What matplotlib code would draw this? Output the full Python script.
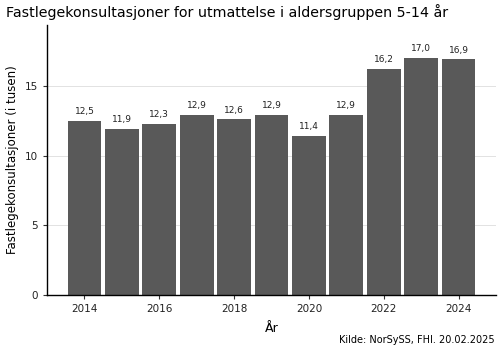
import matplotlib.pyplot as plt

years = [2014, 2015, 2016, 2017, 2018, 2019, 2020, 2021, 2022, 2023, 2024]
values = [12.5, 11.9, 12.3, 12.9, 12.6, 12.9, 11.4, 12.9, 16.2, 17.0, 16.9]
xticks = [2014, 2016, 2018, 2020, 2022, 2024]
yticks = [0, 5, 10, 15]

fig = plt.figure(figsize=(5, 3.52), dpi=100)
ax = fig.add_axes([0.094, 0.162, 0.898, 0.768])

ax.bar(years, values, width=0.9, color='#595959', zorder=2)
for x, v in zip(years, values):
    ax.text(x, v + 0.35, f'{v:.1f}'.replace('.', ','), ha='center', va='bottom',
            fontsize=6.5, color='#222222')

ax.set_xlim(2013, 2025)
ax.set_ylim(0, 19.4)
ax.set_xticks(xticks)
ax.set_yticks(yticks)
ax.tick_params(labelsize=7.5, length=3, color='#333333', labelcolor='#222222')
ax.grid(axis='y', color='#dddddd', linewidth=0.6, zorder=0)
for s in ['top', 'right']:
    ax.spines[s].set_visible(False)
ax.spines['left'].set_linewidth(1.0)
ax.spines['bottom'].set_linewidth(1.0)

ax.set_xlabel('År', fontsize=9, labelpad=6)
ax.set_ylabel('Fastlegekonsultasjoner (i tusen)', fontsize=8.5)
fig.text(0.012, 0.965, 'Fastlegekonsultasjoner for utmattelse i aldersgruppen 5-14 år',
         fontsize=10.3, va='center')
fig.text(0.99, 0.025, 'Kilde: NorSySS, FHI. 20.02.2025', fontsize=7, ha='right')

fig.savefig('out.png')
